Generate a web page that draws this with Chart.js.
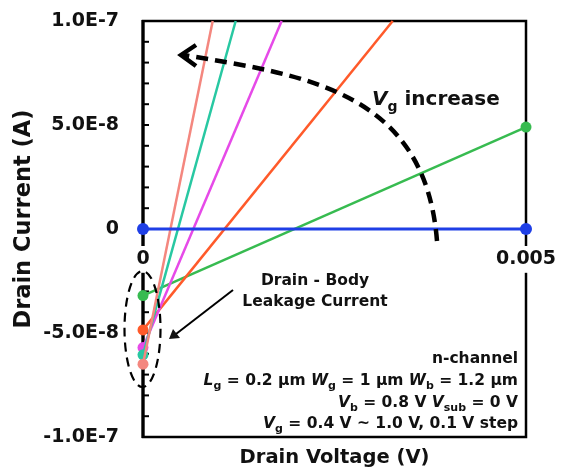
<!DOCTYPE html>
<html>
<head>
<meta charset="utf-8">
<script src="https://cdn.jsdelivr.net/npm/chart.js@4.4.1/dist/chart.umd.min.js"></script>
<style>
  html, body { margin: 0; padding: 0; background: #fff; }
  #wrap { width: 567px; height: 472px; }
</style>
</head>
<body>
<div id="wrap"><canvas id="ivChart" width="567" height="472"></canvas></div>
<script>
// tick labels
const xTickValues = [0, 0.005];
const xTickLabels = ['0', '0.005'];
const yTickValues = [-1e-7, -5e-8, 0, 5e-8, 1e-7];
const yTickLabels = ['-1.0E-7', '-5.0E-8', '0', '5.0E-8', '1.0E-7'];
const yMinorStep = 1e-8;

// drain voltage / drain current, one curve per gate voltage
const blueX = [0, 0.005],        blueY = [0, 0];
const greenX = [0, 0.005],       greenY = [-3.2e-8, 4.9e-8];
const orangeX = [0, 0.00326],    orangeY = [-4.85e-8, 1e-7];
const magentaX = [0, 0.00181],   magentaY = [-5.7e-8, 1e-7];
const tealX = [0, 0.00121],      tealY = [-6.05e-8, 1e-7];
const pinkX = [0, 0.00091],      pinkY = [-6.5e-8, 1e-7];

const FONT = "'DejaVu Sans', sans-serif";
const INK = '#111';

function pts(xs, ys) {
  return xs.map((x, i) => ({ x: x, y: ys[i] }));
}

function series(xs, ys, color, radii, width) {
  return {
    data: pts(xs, ys),
    borderColor: color,
    backgroundColor: color,
    borderWidth: width || 2.5,
    pointRadius: radii,
    pointBorderWidth: 0,
    pointBackgroundColor: color,
    tension: 0,
    clip: false
  };
}

// draws text made of parts: n = bold, i = bold italic, s = subscript
function richText(ctx, parts, x, y, size, align) {
  const fontOf = k => k === 'i' ? `italic bold ${size}px ${FONT}`
    : k === 's' ? `bold ${Math.round(size * 0.72)}px ${FONT}` : `bold ${size}px ${FONT}`;
  let total = 0;
  parts.forEach(p => { ctx.font = fontOf(p[1]); total += ctx.measureText(p[0]).width; });
  let cx = align === 'right' ? x - total : x;
  ctx.textAlign = 'left';
  ctx.textBaseline = 'alphabetic';
  parts.forEach(p => {
    ctx.font = fontOf(p[1]);
    ctx.fillText(p[0], cx, p[1] === 's' ? y + size * 0.28 : y);
    cx += ctx.measureText(p[0]).width;
  });
}

const framePlugin = {
  id: 'frame',
  beforeDatasetsDraw(chart) {
    const { ctx, chartArea: a, scales } = chart;
    ctx.save();
    ctx.strokeStyle = '#000';
    ctx.lineWidth = 2.5;
    ctx.strokeRect(a.left, a.top, a.right - a.left, a.bottom - a.top);
    ctx.lineWidth = 3.2;
    ctx.beginPath();
    ctx.moveTo(a.left, a.top - 1);
    ctx.lineTo(a.left, a.bottom + 1);
    ctx.stroke();
    // minor ticks on the left axis, pointing inwards
    ctx.lineWidth = 2;
    const y = scales.y;
    for (let v = y.min; v <= y.max + yMinorStep / 2; v += yMinorStep) {
      const py = y.getPixelForValue(v);
      ctx.beginPath();
      ctx.moveTo(a.left, py);
      ctx.lineTo(a.left + 6, py);
      ctx.stroke();
    }
    ctx.restore();
  }
};

const notesPlugin = {
  id: 'notes',
  afterDraw(chart) {
    const { ctx, chartArea: a } = chart;
    ctx.save();
    ctx.fillStyle = INK;
    ctx.strokeStyle = '#000';

    // axis titles
    ctx.font = `bold 19.5px ${FONT}`;
    ctx.textAlign = 'center';
    ctx.textBaseline = 'middle';
    ctx.fillText('Drain Voltage (V)', (a.left + a.right) / 2, 458);
    ctx.save();
    ctx.translate(24, 219);
    ctx.rotate(-Math.PI / 2);
    ctx.font = `bold 22.5px ${FONT}`;
    ctx.fillText('Drain Current (A)', 0, 0);
    ctx.restore();

    // dashed "Vg increase" arrow
    ctx.lineWidth = 4.5;
    ctx.setLineDash([12, 7]);
    ctx.beginPath();
    ctx.moveTo(437, 241);
    ctx.bezierCurveTo(425, 90, 303, 75, 184, 55);
    ctx.stroke();
    ctx.setLineDash([]);
    ctx.beginPath();
    ctx.moveTo(196, 45);
    ctx.lineTo(181, 55);
    ctx.lineTo(196, 66);
    ctx.stroke();
    richText(ctx, [['V', 'i'], ['g', 's'], [' increase', 'n']], 372, 105, 20, 'left');

    // leakage ellipse and label
    ctx.lineWidth = 2.2;
    ctx.setLineDash([9, 6]);
    ctx.beginPath();
    ctx.ellipse(142.5, 329, 18, 58, 0, 0, Math.PI * 2);
    ctx.stroke();
    ctx.setLineDash([]);
    ctx.lineWidth = 2;
    ctx.beginPath();
    ctx.moveTo(233, 290);
    ctx.lineTo(176, 334);
    ctx.stroke();
    ctx.beginPath();
    ctx.moveTo(169, 339);
    ctx.lineTo(173, 329);
    ctx.lineTo(180, 338);
    ctx.closePath();
    ctx.fill();
    ctx.font = `bold 15.5px ${FONT}`;
    ctx.textAlign = 'center';
    ctx.textBaseline = 'alphabetic';
    ctx.fillText('Drain - Body', 315, 285);
    ctx.fillText('Leakage Current', 315, 306);

    // device conditions
    const rx = 518, fs = 15.5;
    richText(ctx, [['n-channel', 'n']], rx, 363, fs, 'right');
    richText(ctx, [['L', 'i'], ['g', 's'], [' = 0.2 μm ', 'n'], ['W', 'i'], ['g', 's'],
      [' = 1 μm ', 'n'], ['W', 'i'], ['b', 's'], [' = 1.2 μm', 'n']], rx, 385, fs, 'right');
    richText(ctx, [['V', 'i'], ['b', 's'], [' = 0.8 V ', 'n'], ['V', 'i'], ['sub', 's'],
      [' = 0 V', 'n']], rx, 406.5, fs, 'right');
    richText(ctx, [['V', 'i'], ['g', 's'], [' = 0.4 V ~ 1.0 V, 0.1 V step', 'n']], rx, 428, fs, 'right');
    ctx.restore();
  }
};

new Chart(document.getElementById('ivChart'), {
  type: 'line',
  data: {
    datasets: [
      series(blueX, blueY, '#1f3fe6', [6, 6], 3),
      series(pinkX, pinkY, '#f4877f', [5.5, 0]),
      series(tealX, tealY, '#28c8a2', [5.5, 0]),
      series(magentaX, magentaY, '#e64ae8', [5.5, 0]),
      series(orangeX, orangeY, '#ff5a2a', [5.5, 0]),
      series(greenX, greenY, '#37bb50', [5.5, 5.5])
    ]
  },
  options: {
    responsive: false,
    animation: false,
    layout: { padding: { left: 0, top: 21, right: 41, bottom: 35 } },
    plugins: { legend: { display: false }, tooltip: { enabled: false } },
    scales: {
      x: {
        type: 'linear',
        position: { y: 0 },
        min: 0,
        max: 0.005,
        afterBuildTicks: s => { s.ticks = xTickValues.map(v => ({ value: v })); },
        afterFit: s => { s.paddingLeft = 0; s.paddingRight = 0; },
        grid: { display: false, drawTicks: false },
        border: { display: false },
        ticks: {
          z: 1,
          autoSkip: false,
          maxRotation: 0,
          padding: 19,
          color: INK,
          font: { family: FONT, weight: 'bold', size: 19 },
          showLabelBackdrop: true,
          backdropColor: '#fff',
          backdropPadding: { top: 2, bottom: 2, left: 2, right: 2 },
          callback: (v, i) => xTickLabels[i]
        }
      },
      y: {
        type: 'linear',
        min: -1e-7,
        max: 1e-7,
        afterBuildTicks: s => { s.ticks = yTickValues.map(v => ({ value: v })); },
        afterFit: s => { s.width = 143; s.paddingTop = 0; s.paddingBottom = 0; },
        grid: { display: false, drawTicks: false },
        border: { display: false },
        ticks: {
          autoSkip: false,
          padding: 24,
          color: INK,
          font: { family: FONT, weight: 'bold', size: 19 },
          callback: (v, i) => yTickLabels[i]
        }
      }
    }
  },
  plugins: [framePlugin, notesPlugin]
});
</script>
</body>
</html>
